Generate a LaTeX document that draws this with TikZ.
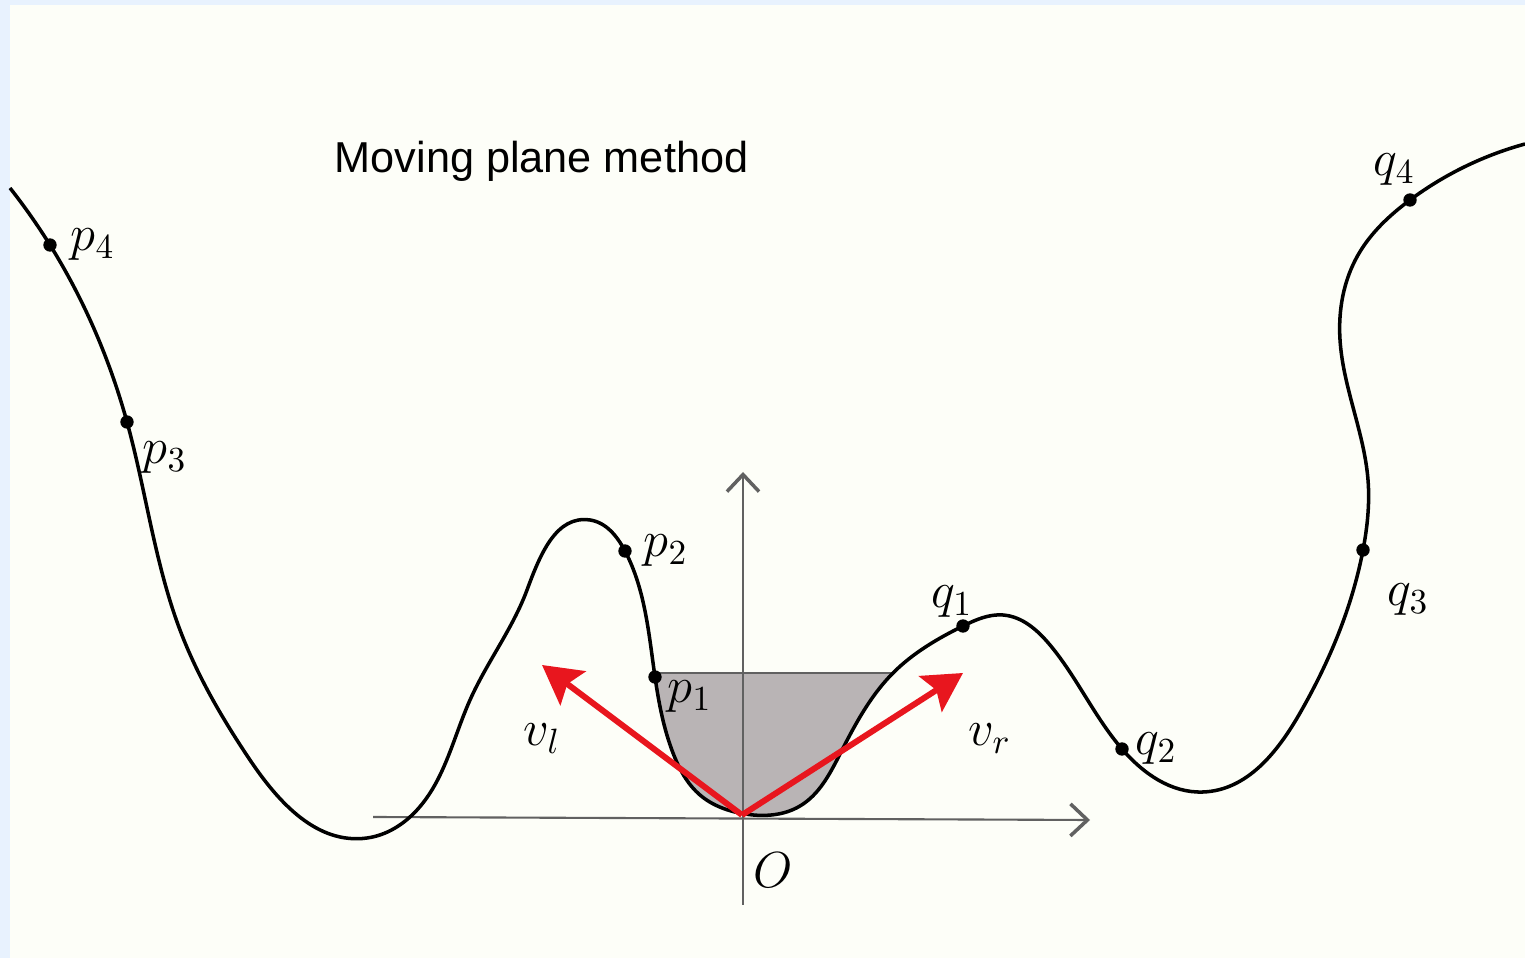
\documentclass[tikz,border=0pt]{standalone}
\usepackage{fontspec}
\usepackage{tikz}
\usetikzlibrary{positioning, arrows.meta, hobby}
\newfontfamily\titlefont{Liberation Sans}
\definecolor{paper}{RGB}{253,254,248}
\definecolor{edgeblue}{RGB}{232,242,254}
\definecolor{shadegray}{RGB}{185,180,181}
\definecolor{vecred}{RGB}{232,22,30}
\newcommand{\wavecurve}{(10,770) .. (p4) .. (p3) .. (180,328) .. (250,198) .. (367,120)
  .. (417,148) .. (470,258) .. (527,368) .. (590,438) .. (p2) .. (p1) .. (673,205)
  .. (700,163) .. (745,144) .. (800,152) .. (840,204) .. (sr) .. (q1) .. (1003,343)
  .. (1050,313) .. (q2) .. (1203,166) .. (1300,245) .. (q3) .. (1368,478) .. (1340,618)
  .. (1358,703) .. (q4) .. (1525,814)}

\begin{document}
\begin{tikzpicture}[x=0.01cm, y=0.01cm, use Hobby shortcut,
    curve/.style={line width=1pt, black},
    axis/.style={line width=0.6pt, black!62, -{Straight Barb[length=1.7mm, width=3.2mm, line width=1pt]}},
    vec/.style={line width=1.7pt, vecred, -{Stealth[length=11pt, width=12pt, inset=2pt]}},
    lbl/.style={inner sep=0pt, font=\fontsize{14.4}{17}\selectfont},
    titletext/.style={inner sep=0pt, font=\titlefont\fontsize{12.3}{14}\selectfont}]
  \useasboundingbox (0,0) rectangle (1525,958);
  \fill[paper] (0,0) rectangle (1525,958);
  \fill[edgeblue] (0,0) rectangle (10,958);
  \fill[edgeblue] (0,953) rectangle (1525,958);

  \coordinate (p4) at (50,713);
  \coordinate (p3) at (127,536);
  \coordinate (p2) at (625,407);
  \coordinate (p1) at (655,281);
  \coordinate (q1) at (963,332);
  \coordinate (q2) at (1122,209);
  \coordinate (q3) at (1363,408);
  \coordinate (q4) at (1410,758);
  \coordinate (sl) at (655,285);
  \coordinate (sr) at (893,285);
  \coordinate (O) at (742,143);
  \coordinate (xl) at (373,141);
  \coordinate (xr) at (1090,138);
  \coordinate (yb) at (743,53);
  \coordinate (yt) at (743,486);
  \coordinate (vl) at (542,293);
  \coordinate (vr) at (963,285);

  % shaded cap under the line
  \begin{scope}
    \clip (650,128) rectangle (896,285);
    \fill[shadegray] \wavecurve -- (1525,958) -- (0,958) -- cycle;
  \end{scope}
  \draw[line width=0.6pt, black!62] (sl) -- (sr);

  \draw[axis] (xl) -- (xr);
  \draw[axis] (yb) -- (yt);

  \draw[curve] \wavecurve;
  \foreach \pt in {p1,p2,p3,p4,q1,q2,q3,q4}
    \fill (\pt) circle (1.9pt);

  \draw[vec] (O) -- (vl);
  \draw[vec] (O) -- (vr);

  \node[titletext, anchor=base west] (title) at (334,785) {Moving plane method};
  \node[lbl, right=2mm of p4] (p4l) {$p_4$};
  \node[lbl, below right=1.9mm and 1.5mm of p3] (p3l) {$p_3$};
  \node[lbl, right=1.8mm of p2] (p2l) {$p_2$};
  \node[lbl, below right=0.3mm and 1.2mm of p1] (p1l) {$p_1$};
  \node[lbl, above=0.8mm of q1, xshift=-1.1mm] (q1l) {$q_1$};
  \node[lbl, right=1.3mm of q2] (q2l) {$q_2$};
  \node[lbl, below right=3.3mm and 2.4mm of q3] (q3l) {$q_3$};
  \node[lbl, above=1.4mm of q4, xshift=-1.55mm] (q4l) {$q_4$};
  \node[lbl, below=5.8mm of vl] (vll) {$v_l$};
  \node[lbl, below right=5mm and 0.5mm of vr] (vrl) {$v_r$};
  \node[lbl, below right=3.7mm and 1.1mm of O] (Ol) {$O$};
\end{tikzpicture}
\end{document}
